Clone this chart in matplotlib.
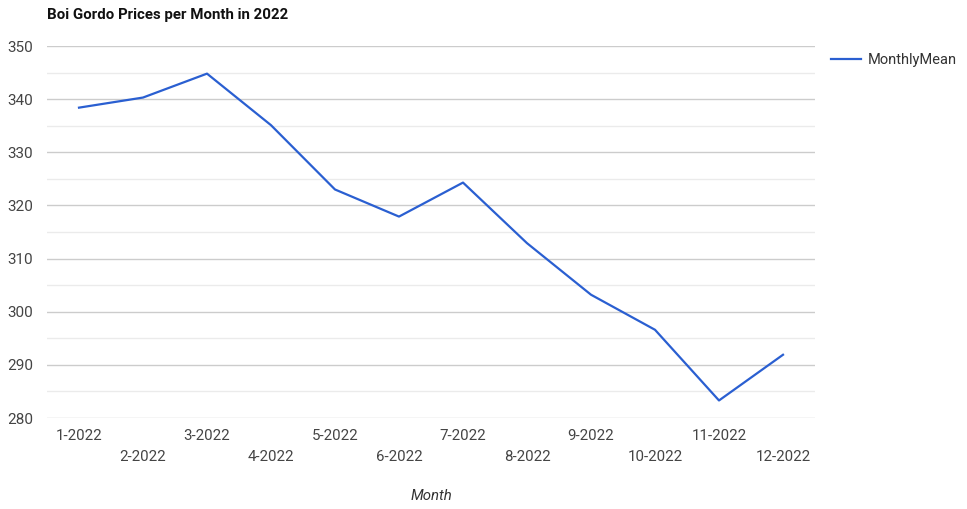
import matplotlib.pyplot as plt
from matplotlib.ticker import MultipleLocator

months = ["1-2022", "2-2022", "3-2022", "4-2022", "5-2022", "6-2022",
          "7-2022", "8-2022", "9-2022", "10-2022", "11-2022", "12-2022"]
monthly_mean = [338.4, 340.3, 344.8, 335.1, 323.0, 317.9,
                324.3, 312.9, 303.2, 296.6, 283.3, 291.9]

plt.rcParams['font.family'] = ['Roboto', 'DejaVu Sans']

fig = plt.figure(figsize=(9.67, 5.09), dpi=100)
ax = fig.add_axes([47 / 967, 1 - 418 / 509, (815 - 47) / 967, (418 - 46) / 509])

x = list(range(len(months)))
ax.plot(x, monthly_mean, color='#2a5fd1', lw=1.6, label='MonthlyMean', zorder=3)

ax.set_xlim(-0.5, len(months) - 0.5)
ax.set_ylim(280, 350)
ax.yaxis.set_major_locator(MultipleLocator(10))
ax.yaxis.set_minor_locator(MultipleLocator(5))
ax.grid(axis='y', which='major', color='#cccccc', lw=1)
ax.grid(axis='y', which='minor', color='#ebebeb', lw=1)
ax.set_axisbelow(True)
for s in ax.spines.values():
    s.set_visible(False)
ax.tick_params(axis='both', which='both', length=0)
ax.tick_params(axis='y', labelsize=11, labelcolor='#444444', pad=28.8)
for lbl in ax.get_yticklabels():
    lbl.set_horizontalalignment('left')

ax.set_xticks(x)
ax.set_xticklabels([m if i % 2 == 0 else '\n' + m for i, m in enumerate(months)],
                   fontsize=10.8, color='#444444', linespacing=1.65)
ax.tick_params(axis='x', pad=8)

ax.set_xlabel('Month', fontsize=10.8, style='italic', color='#333333', labelpad=18)
fig.text(47 / 967, 1 - 15 / 509, 'Boi Gordo Prices per Month in 2022',
         fontsize=10.8, fontweight='bold', color='#111111', va='center', ha='left')

ax.legend(loc='upper left', bbox_to_anchor=(818 / 967, 1 - 40 / 509),
          bbox_transform=fig.transFigure, frameon=False, fontsize=10.5,
          handlelength=2.05, handletextpad=0.48, labelcolor='#333333')

fig.savefig('out.png', dpi=100, facecolor='white')
